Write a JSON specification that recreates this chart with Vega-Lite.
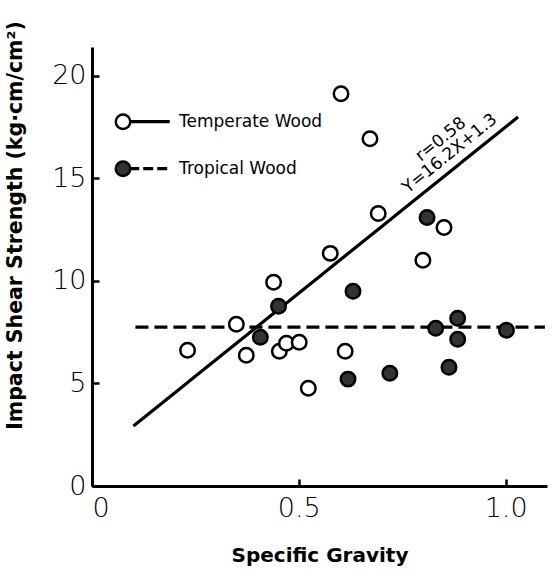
{
  "$schema": "https://vega.github.io/schema/vega-lite/v6.json",
  "width": 455,
  "height": 439,
  "autosize": "none",
  "padding": {"left": 92, "top": 47, "right": 8, "bottom": 90},
  "background": "white",
  "config": {
    "view": {"stroke": null},
    "font": "DejaVu Sans",
    "axis": {
      "grid": false,
      "domainColor": "black",
      "domainWidth": 3,
      "tickColor": "black",
      "tickWidth": 2.5,
      "tickSize": -7,
      "labelColor": "black",
      "labelFont": "DejaVu Sans",
      "labelFontWeight": 200,
      "labelFontSize": 27,
      "titleColor": "black",
      "titleFont": "DejaVu Sans",
      "titleFontWeight": "bold"
    }
  },
  "datasets": {
    "points": [
      {"type": "Temperate", "sg": 0.231, "strength": 6.62},
      {"type": "Temperate", "sg": 0.349, "strength": 7.88},
      {"type": "Temperate", "sg": 0.373, "strength": 6.37},
      {"type": "Temperate", "sg": 0.439, "strength": 9.93},
      {"type": "Temperate", "sg": 0.453, "strength": 6.57},
      {"type": "Temperate", "sg": 0.470, "strength": 6.96},
      {"type": "Temperate", "sg": 0.501, "strength": 7.01},
      {"type": "Temperate", "sg": 0.523, "strength": 4.77},
      {"type": "Temperate", "sg": 0.576, "strength": 11.34},
      {"type": "Temperate", "sg": 0.602, "strength": 19.12},
      {"type": "Temperate", "sg": 0.612, "strength": 6.57},
      {"type": "Temperate", "sg": 0.672, "strength": 16.93},
      {"type": "Temperate", "sg": 0.692, "strength": 13.28},
      {"type": "Temperate", "sg": 0.800, "strength": 11.0},
      {"type": "Temperate", "sg": 0.851, "strength": 12.6},
      {"type": "Tropical", "sg": 0.407, "strength": 7.25},
      {"type": "Tropical", "sg": 0.451, "strength": 8.76},
      {"type": "Tropical", "sg": 0.619, "strength": 5.21},
      {"type": "Tropical", "sg": 0.631, "strength": 9.49},
      {"type": "Tropical", "sg": 0.720, "strength": 5.5},
      {"type": "Tropical", "sg": 0.810, "strength": 13.09},
      {"type": "Tropical", "sg": 0.831, "strength": 7.69},
      {"type": "Tropical", "sg": 0.863, "strength": 5.79},
      {"type": "Tropical", "sg": 0.884, "strength": 8.18},
      {"type": "Tropical", "sg": 0.884, "strength": 7.15},
      {"type": "Tropical", "sg": 1.002, "strength": 7.59}
    ],
    "lines": [
      {"line": "fit", "sg": 0.1, "strength": 2.92},
      {"line": "fit", "sg": 1.03, "strength": 17.99},
      {"line": "trop", "sg": 0.105, "strength": 7.74},
      {"line": "trop", "sg": 1.095, "strength": 7.74},
      {"line": "legT", "sg": 0.09, "strength": 17.76},
      {"line": "legT", "sg": 0.188, "strength": 17.76},
      {"line": "legP", "sg": 0.09, "strength": 15.47},
      {"line": "legP", "sg": 0.188, "strength": 15.47}
    ],
    "legend": [
      {"type": "Temperate", "label": "Temperate Wood", "sg": 0.075, "strength": 17.76},
      {"type": "Tropical", "label": "Tropical Wood", "sg": 0.075, "strength": 15.47}
    ],
    "notes": [
      {"text": "r=0.58", "sg": 0.843, "strength": 16.89},
      {"text": "Y=16.2X+1.3", "sg": 0.865, "strength": 16.2}
    ]
  },
  "layer": [
    {
      "data": {"name": "lines"},
      "mark": {"type": "line", "color": "black", "strokeWidth": 3.2, "clip": false},
      "encoding": {
        "x": {
          "field": "sg", "type": "quantitative",
          "scale": {"domain": [0, 1.1], "nice": false, "zero": false},
          "axis": {
            "values": [0, 0.5, 1.0],
            "labelExpr": "datum.value == 0 ? '0' : format(datum.value, '.1f')",
            "labelPadding": 16,
            "title": "Specific Gravity",
            "titleFontSize": 20,
            "titlePadding": 24
          }
        },
        "y": {
          "field": "strength", "type": "quantitative",
          "scale": {"domain": [0, 21.4], "nice": false, "zero": false},
          "axis": {
            "values": [0, 5, 10, 15, 20],
            "format": "d",
            "labelPadding": 13,
            "title": "Impact Shear Strength (kg·cm/cm²)",
            "titleFontSize": 20.5,
            "titleX": -67,
            "titleY": 178
          }
        },
        "detail": {"field": "line", "type": "nominal"},
        "strokeDash": {
          "field": "line", "type": "nominal",
          "scale": {"domain": ["fit", "legT", "trop", "legP"], "range": [[1, 0], [1, 0], [13, 6], [10, 4]]},
          "legend": null
        }
      }
    },
    {
      "data": {"name": "points"},
      "mark": {"type": "point", "shape": "circle", "filled": false, "size": 210, "stroke": "black", "strokeWidth": 2.5, "opacity": 1},
      "encoding": {
        "x": {"field": "sg", "type": "quantitative"},
        "y": {"field": "strength", "type": "quantitative"},
        "fill": {
          "field": "type", "type": "nominal",
          "scale": {"domain": ["Temperate", "Tropical"], "range": ["white", "#333333"]},
          "legend": null
        }
      }
    },
    {
      "data": {"name": "legend"},
      "mark": {"type": "point", "shape": "circle", "filled": false, "size": 210, "stroke": "black", "strokeWidth": 2.5, "opacity": 1},
      "encoding": {
        "x": {"field": "sg", "type": "quantitative"},
        "y": {"field": "strength", "type": "quantitative"},
        "fill": {"field": "type", "type": "nominal", "legend": null}
      }
    },
    {
      "data": {"name": "legend"},
      "mark": {"type": "text", "align": "left", "baseline": "middle", "dx": 56, "fontSize": 17, "color": "black"},
      "encoding": {
        "x": {"field": "sg", "type": "quantitative"},
        "y": {"field": "strength", "type": "quantitative"},
        "text": {"field": "label"}
      }
    },
    {
      "data": {"name": "notes"},
      "mark": {"type": "text", "align": "center", "baseline": "middle", "angle": 321, "fontSize": 17, "color": "black"},
      "encoding": {
        "x": {"field": "sg", "type": "quantitative"},
        "y": {"field": "strength", "type": "quantitative"},
        "text": {"field": "text"}
      }
    }
  ]
}
